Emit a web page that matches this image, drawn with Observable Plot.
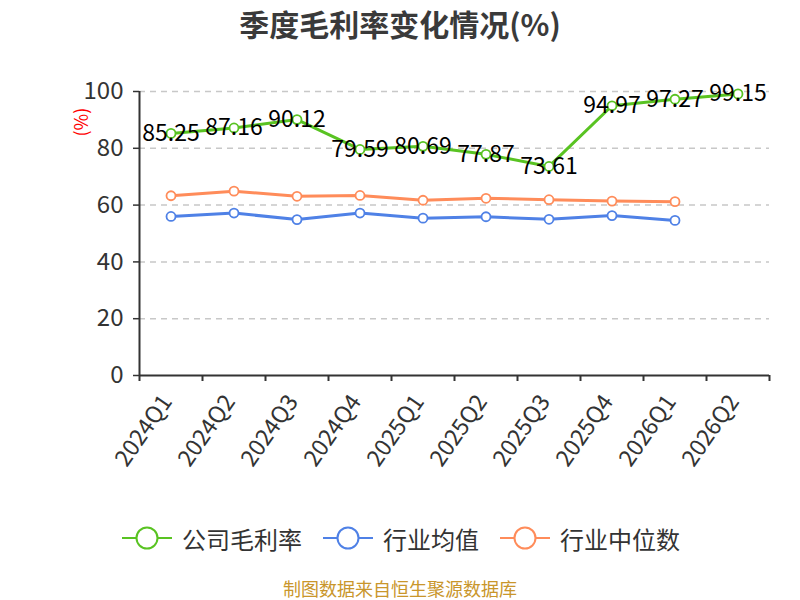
<!DOCTYPE html>
<html>
<head>
<meta charset="utf-8">
<script src="https://cdn.jsdelivr.net/npm/d3@7"></script>
<script src="https://cdn.jsdelivr.net/npm/@observablehq/plot@0.6"></script>
<style>
  body { margin: 0; background: #fff; font-family: "Noto Sans CJK SC", "Noto Sans", sans-serif; }
  #wrap { position: relative; width: 800px; height: 600px; overflow: hidden; }
  #title { position: absolute; top: 0; left: 0; width: 800px; height: 45px; line-height: 46px; text-align: center; font-size: 30px; font-weight: bold; color: #3a3a3a; }
  #chart { position: absolute; top: 45px; left: 0; }
  #legend { position: absolute; top: 520px; left: 0; width: 800px; height: 36px; }
  .item { position: absolute; top: 0; height: 36px; display: flex; align-items: center; font-size: 24px; color: #333; }
  .item svg { margin-right: 10px; }
  #footer { position: absolute; top: 578px; left: 0; width: 800px; height: 21px; line-height: 21px; text-align: center; font-size: 18px; color: #c9962b; }
</style>
</head>
<body>
<div id="wrap">
  <div id="title">季度毛利率变化情况(%)</div>
  <div id="chart"></div>
  <div id="legend"></div>
  <div id="footer">制图数据来自恒生聚源数据库</div>
</div>
<script>
const quarters = ["2024Q1","2024Q2","2024Q3","2024Q4","2025Q1","2025Q2","2025Q3","2025Q4","2026Q1","2026Q2"];
const company = [85.25, 87.16, 90.12, 79.59, 80.69, 77.87, 73.61, 94.97, 97.27, 99.15];
const industryAvg = [56.0, 57.2, 54.9, 57.2, 55.4, 55.9, 55.0, 56.3, 54.6];
const industryMedian = [63.3, 64.9, 63.1, 63.4, 61.7, 62.4, 61.9, 61.4, 61.2];
const yTicks = [0, 20, 40, 60, 80, 100];
const seriesNames = ["公司毛利率", "行业均值", "行业中位数"];
const colors = ["#59c322", "#4f81e6", "#ff8c5a"];

const toRows = vals => vals.map((v, i) => ({x: i + 0.5, q: quarters[i], v}));
const rowsC = toRows(company);
const rowsA = toRows(industryAvg);
const rowsM = toRows(industryMedian);

const font = "Noto Sans CJK SC, Noto Sans, sans-serif";

const plot = Plot.plot({
  width: 800,
  height: 460,
  marginTop: 46,
  marginBottom: 130,
  marginLeft: 139,
  marginRight: 31,
  style: {fontFamily: font, background: "transparent", overflow: "visible"},
  x: {type: "linear", domain: [0, quarters.length], axis: null},
  y: {domain: [0, 100], axis: null},
  marks: [
    Plot.gridY(yTicks.filter(d => d > 0), {stroke: "#c8c8c8", strokeOpacity: 1, strokeWidth: 1.5, strokeDasharray: "6,5"}),
    Plot.axisY(yTicks, {tickSize: 6, tickPadding: 10, fontSize: 24, fill: "#333", stroke: "#333", strokeWidth: 1.5, label: null}),
    Plot.ruleX([0], {stroke: "#333", strokeWidth: 2}),
    Plot.ruleY([0], {stroke: "#333", strokeWidth: 2}),
    Plot.axisX(d3.range(quarters.length + 1), {tickSize: 6, tickFormat: () => "", stroke: "#333", strokeWidth: 2, label: null}),
    Plot.axisX(quarters.map((q, i) => i + 0.5), {tickSize: 0, tickPadding: 22, dx: -4, tickRotate: -55, fontSize: 23, fill: "#333", tickFormat: d => quarters[Math.floor(d)], label: null}),
    Plot.text(["(%)"], {frameAnchor: "top-left", dx: -64, dy: 45, rotate: -90, fill: "red", fontSize: 18}),
    Plot.line(rowsM, {x: "x", y: "v", stroke: colors[2], strokeWidth: 3}),
    Plot.line(rowsA, {x: "x", y: "v", stroke: colors[1], strokeWidth: 3}),
    Plot.line(rowsC, {x: "x", y: "v", stroke: colors[0], strokeWidth: 3}),
    Plot.dot(rowsM, {x: "x", y: "v", r: 4.5, fill: "white", stroke: colors[2], strokeWidth: 1.8}),
    Plot.dot(rowsA, {x: "x", y: "v", r: 4.5, fill: "white", stroke: colors[1], strokeWidth: 1.8}),
    Plot.dot(rowsC, {x: "x", y: "v", r: 4.5, fill: "white", stroke: colors[0], strokeWidth: 1.8}),
    Plot.text(rowsC, {x: "x", y: "v", text: d => d.v.toFixed(2), fill: "#000", fontSize: 23})
  ]
});
document.getElementById("chart").appendChild(plot);

const legend = document.getElementById("legend");
const lefts = [122, 323, 500];
seriesNames.forEach((name, i) => {
  const div = document.createElement("div");
  div.className = "item";
  div.style.left = lefts[i] + "px";
  div.innerHTML = `<svg width="50" height="26"><line x1="0" y1="13" x2="50" y2="13" stroke="${colors[i]}" stroke-width="2"/><circle cx="25" cy="13" r="10.5" fill="white" stroke="${colors[i]}" stroke-width="2"/></svg><span>${name}</span>`;
  legend.appendChild(div);
});
</script>
</body>
</html>
